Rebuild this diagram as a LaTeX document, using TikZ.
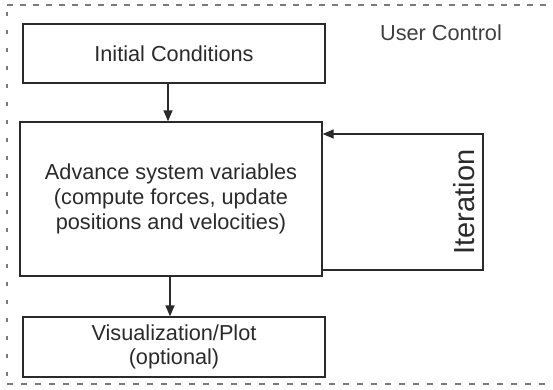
\documentclass[tikz,border=0pt]{standalone}
\usepackage{fontspec}
\setmainfont{Liberation Sans}
\usetikzlibrary{arrows.meta}
\definecolor{ln}{HTML}{2A2A2A}
\definecolor{bd}{HTML}{7A7A7A}
\tikzset{
  box/.style={draw=ln, line width=1.3pt, inner sep=0pt, align=center, text=ln, font=\fontsize{21.7}{25}\selectfont},
  conn/.style={draw=ln, line width=1.3pt, -{Triangle[length=11pt,width=9pt]}},
  border/.style={draw=bd, line width=1.2pt},
  lbl/.style={font=\fontsize{21.7}{25}\selectfont, text=ln, inner sep=0pt}
}
\begin{document}
\begin{tikzpicture}[x=1pt,y=-1pt]
\useasboundingbox (0,0) rectangle (553,389);
% user control border
\draw[border, dash pattern=on 6pt off 7pt] (7,5) -- (553,5);
\draw[border, dash pattern=on 6pt off 8pt] (7,384) -- (553,384);
\draw[border, dash pattern=on 4pt off 14pt] (7,12) -- (7,380);
\node[lbl, text=ln!90] (uc) at (441,33) {User Control};
% boxes
\node[box, minimum width=302pt, minimum height=59pt] (init) at (174,53.5) {Initial Conditions};
\node[box, minimum width=302pt, minimum height=154pt] (adv) at (171,199) {Advance system variables\\(compute forces, update\\positions and velocities)};
\node[box, minimum width=302pt, minimum height=60pt, font=\fontsize{21.7}{24}\selectfont] (vis) at (174,347) {Visualization/Plot\\(optional)};
% connectors
\draw[conn] (init.south -| 168,0) -- (adv.north -| 168,0);
\draw[conn] (adv.south -| 170,0) -- (vis.north -| 170,0);
\coordinate (lb) at (483,270);
\coordinate (lt) at (483,134);
\draw[conn] (adv.east |- lb) -- (lb) -- (lt) -- (adv.east |- lt);
\node[lbl, font=\fontsize{29}{30}\selectfont, rotate=90] (it) at (464,202) {Iteration};
\end{tikzpicture}
\end{document}
